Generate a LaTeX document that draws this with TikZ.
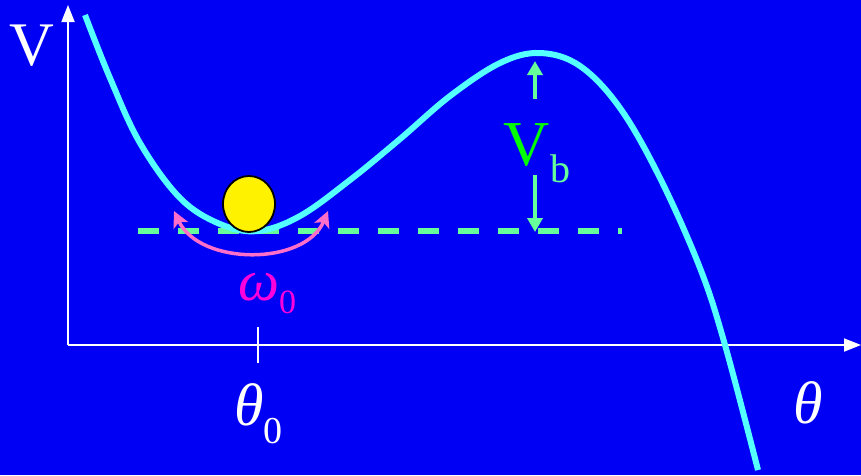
\documentclass[tikz,border=0pt]{standalone}
\usepackage{fontspec}
\setmainfont{Liberation Serif}
\usetikzlibrary{arrows.meta,shapes.geometric}
\definecolor{bg}{RGB}{0,0,245}
\definecolor{curvec}{RGB}{85,255,255}
\definecolor{dashg}{RGB}{102,255,153}
\definecolor{vbg}{RGB}{0,255,0}
\definecolor{pinkc}{RGB}{255,110,200}
\definecolor{omegac}{RGB}{255,0,220}
\tikzset{
  axis/.style={white, line width=1.8pt, -{Triangle[length=17pt,width=13pt]}},
  potential/.style={curvec, line width=6pt},
  lbl/.style={white, inner sep=0pt},
}
\begin{document}
\begin{tikzpicture}[x=1pt,y=-1pt]
\fill[bg] (0,0) rectangle (861,475);
\useasboundingbox (0,0) rectangle (861,475);
% axes
\coordinate (O) at (68,345);
\coordinate (ytop) at (68,5);
\coordinate (xend) at (861,345);
\draw[axis] (O) -- (ytop);
\draw[axis] (O) -- (xend);
\coordinate (t1) at (258,327);
\coordinate (t2) at (258,363);
\draw[white, line width=1.8pt] (t1) -- (t2);
% dashed level
\coordinate (d1) at (138,231);
\coordinate (d2) at (622,231);
\draw[dashg, line width=5.5pt, dash pattern=on 21pt off 19pt] (d1) -- (d2);
% potential curve
\draw[potential] plot[smooth, tension=0.6] coordinates {
 (85,15) (110,78) (140,143) (180,198) (220,224) (258,231) (300,216) (350,180)
 (400,139) (450,96) (500,63) (540,53) (580,66) (620,108) (660,178) (700,268)
 (725,345) (758,470)};
% ball
\node[draw=black, line width=1.8pt, fill=yellow, ellipse, minimum width=52pt, minimum height=56pt, inner sep=0pt] (ball) at (249,204) {};
% oscillation arrow
\coordinate (p1) at (174,211);
\coordinate (p2) at (328,211);
\draw[pinkc, line width=3.5pt, {Stealth[length=16pt,width=16pt,inset=4pt]}-{Stealth[length=16pt,width=16pt,inset=4pt]}]
  (p1) .. controls (200,266) and (305,266) .. (p2);
% barrier height
\node[vbg, inner sep=0pt, anchor=base] (vb) at (537,165) {\fontsize{64}{64}\selectfont V\raisebox{-17pt}[0pt][0pt]{\textcolor{dashg}{\fontsize{40}{40}\selectfont b}}};
\coordinate (vbt) at (535,61);
\coordinate (vbb) at (535,232);
\coordinate (vbu) at (535,99);
\coordinate (vbd) at (535,175);
\draw[dashg, line width=3.5pt, -{Triangle[length=14pt,width=15pt]}] (vbu) -- (vbt);
\draw[dashg, line width=3.5pt, -{Triangle[length=14pt,width=15pt]}] (vbd) -- (vbb);
% labels
\node[lbl, anchor=base] (V) at (32,65) {\fontsize{62}{62}\selectfont V};
\node[lbl, anchor=base west] (theta) at (793,423) {\fontsize{60}{60}\selectfont\itshape θ};
\node[lbl, anchor=base west] (theta0) at (234,425) {\fontsize{60}{60}\selectfont\itshape θ\raisebox{-18pt}{\upshape\fontsize{38}{38}\selectfont 0}};
\node[omegac, inner sep=0pt, anchor=base west] (omega) at (238,300) {\fontsize{58}{58}\selectfont\itshape ω\raisebox{-13pt}{\upshape\fontsize{34}{34}\selectfont 0}};
\end{tikzpicture}
\end{document}
